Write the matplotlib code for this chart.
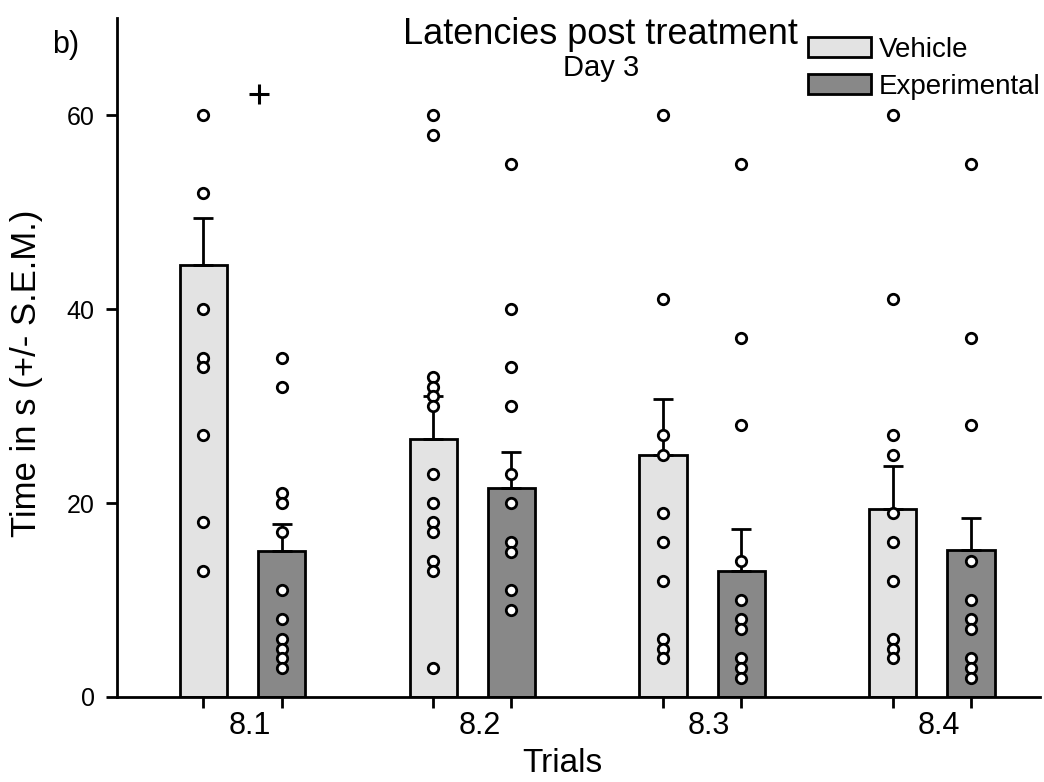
import numpy as np
import matplotlib
matplotlib.use("Agg")
import matplotlib.pyplot as plt
import matplotlib.transforms as mtransforms

plt.rcParams['font.family'] = ['Liberation Sans', 'DejaVu Sans']

# data
trials = ['8.1', '8.2', '8.3', '8.4']
groups = ['Vehicle', 'Experimental']

vehicle_mean = [44.6, 26.6, 25.0, 19.4]
vehicle_sem = [4.8, 4.4, 5.7, 4.4]
experimental_mean = [15.1, 21.6, 13.0, 15.2]
experimental_sem = [2.7, 3.7, 4.3, 3.3]

vehicle_points = [
    [60, 52, 40, 35, 34, 27, 18, 13],
    [60, 58, 33, 32, 31, 30, 23, 20, 18, 17, 14, 13, 3],
    [60, 41, 27, 25, 19, 16, 12, 6, 5, 4],
    [60, 41, 27, 25, 19, 16, 12, 6, 5, 4],
]
experimental_points = [
    [35, 32, 21, 20, 17, 11, 8, 6, 5, 4, 3],
    [55, 40, 34, 30, 23, 20, 16, 15, 11, 9],
    [55, 37, 28, 14, 10, 8, 7, 4, 3, 2],
    [55, 37, 28, 14, 10, 8, 7, 4, 3, 2],
]

colors = ['#e3e3e3', '#888888']

fig = plt.figure(figsize=(10.44, 7.82), dpi=100)
ax = fig.add_axes([0.1121, 0.1087, 0.884, 0.868])

x = np.arange(len(trials))
off = 0.17
width = 0.205
lw = 2.0

series = [(vehicle_mean, vehicle_sem, vehicle_points),
          (experimental_mean, experimental_sem, experimental_points)]
bar_x = []
for i, (mean, sem, pts) in enumerate(series):
    xs = x + (i * 2 - 1) * off
    bar_x.extend(xs)
    ax.bar(xs, mean, width, color=colors[i], edgecolor='black',
           linewidth=lw, label=groups[i], zorder=2)
    ax.errorbar(xs, mean, yerr=[np.zeros(len(mean)), sem], fmt='none',
                ecolor='black', elinewidth=lw, capsize=7, capthick=lw,
                zorder=3)
    for xi, p in zip(xs, pts):
        ax.plot(np.full(len(p), xi), p, 'o', ms=7.5, mfc='white', mec='black',
                mew=2.0, zorder=4, linestyle='none')

# significance mark
ax.plot(x[0] + 0.07, 62.2, marker='+', ms=15, mew=2.2, color='black',
        linestyle='none', zorder=4)

ax.set_xlim(-0.546, 3.47)
ax.set_ylim(0, 70)
ax.set_yticks([0, 20, 40, 60])
ax.set_xticks(x)
ax.set_xticklabels(trials, fontsize=22)
ax.set_xticks(bar_x, minor=True)
ax.tick_params(axis='x', which='major', length=0, pad=10)
ax.tick_params(axis='x', which='minor', length=8, width=lw, direction='out')
ax.tick_params(axis='y', length=8, width=lw, labelsize=18, pad=8)
shift = mtransforms.ScaledTranslation(7 / 100, 0, fig.dpi_scale_trans)
for lab in ax.get_xticklabels():
    lab.set_transform(lab.get_transform() + shift)

for s in ['top', 'right']:
    ax.spines[s].set_visible(False)
for s in ['left', 'bottom']:
    ax.spines[s].set_linewidth(lw)

ax.set_xlabel('Trials', fontsize=24)
ax.xaxis.set_label_coords(0.483, -0.075)
ax.set_ylabel('Time in s (+/- S.E.M.)', fontsize=25)
ax.yaxis.set_label_coords(-0.08, 0.477)

fig.text(0.575, 0.978, 'Latencies post treatment', fontsize=26,
         ha='center', va='top')
fig.text(0.576, 0.903, 'Day 3', fontsize=21, ha='center', va='baseline')
fig.text(0.05, 0.962, 'b)', fontsize=22, ha='left', va='top')

ax.legend(loc='upper left', bbox_to_anchor=(808 / 1044, 1 - 37 / 782),
          bbox_transform=fig.transFigure, frameon=False, fontsize=20,
          handlelength=2.25, handleheight=0.72, handletextpad=0.3,
          labelspacing=0.38, borderpad=0, borderaxespad=0)

fig.savefig('out.png', dpi=100)
